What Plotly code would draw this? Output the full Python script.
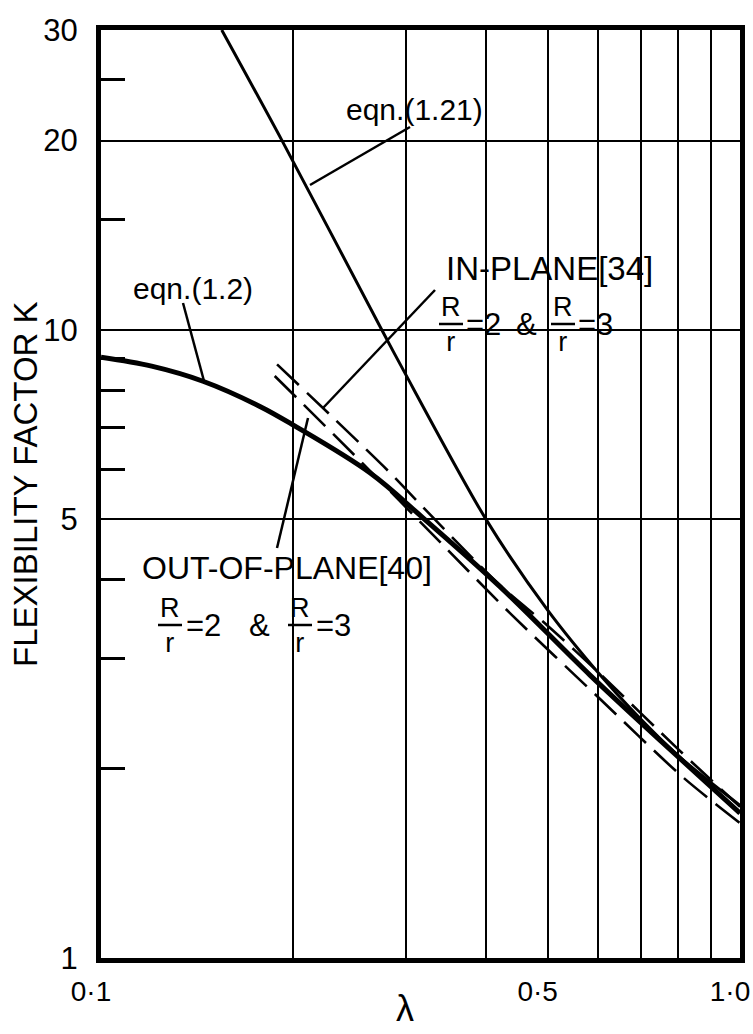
import plotly.graph_objects as go
import math

# ---- data (lambda, K) ----
lam_eq121 = [0.1545, 0.192, 0.275, 0.297, 0.40, 0.50, 0.61, 0.673, 0.80, 1.0]
k_eq121 = [30.0, 20.0, 10.0, 8.64, 5.0, 3.58, 2.79, 2.50, 2.10, 1.75]

lam_eq12 = [0.1, 0.12, 0.1444, 0.1773, 0.2, 0.2635, 0.319, 0.4211, 0.5824, 0.75, 1.0]
k_eq12 = [9.04, 8.75, 8.28, 7.55, 7.05, 5.92, 5.02, 3.90, 2.82, 2.22, 1.70]

lam_inplane = [0.1886, 0.2834, 0.319, 0.4211, 0.50, 0.60, 0.80, 1.0]
k_inplane = [8.81, 5.92, 5.22, 3.92, 3.38, 2.85, 2.15, 1.74]

lam_outplane = [0.187, 0.2542, 0.3417, 0.4365, 0.60, 0.814, 1.0]
k_outplane = [8.44, 6.19, 4.56, 3.54, 2.60, 1.94, 1.64]

y_label_vals = [1, 5, 10, 20, 30]
y_label_text = ["1", "5", "10", "20", "30"]
y_minor_vals = [2, 3, 4, 6, 7, 8, 9, 15, 25]
x_label_vals = [0.1, 0.5, 1.0]
x_label_text = ["0\u00b71", "0\u00b75", "1\u00b70"]
x_grid_vals = [0.2, 0.3, 0.4, 0.6, 0.7, 0.8, 0.9]

W, H = 753, 1034
ML, MR, MT, MB = 101, 13, 30, 76
PW, PH = W - ML - MR, H - MT - MB
FONT = "Liberation Sans, Arial, sans-serif"


def px(x):
    return (x - ML) / PW


def py(y):
    return (H - MB - y) / PH


fig = go.Figure()
fig.add_trace(go.Scatter(x=lam_eq12, y=k_eq12, mode="lines",
                         line=dict(color="black", width=5, shape="spline", smoothing=1.0)))
fig.add_trace(go.Scatter(x=lam_eq121, y=k_eq121, mode="lines",
                         line=dict(color="black", width=3, shape="spline", smoothing=0.8)))
fig.add_trace(go.Scatter(x=lam_inplane, y=k_inplane, mode="lines",
                         line=dict(color="black", width=2.6, dash="30px,11px",
                                   shape="spline", smoothing=0.8)))
fig.add_trace(go.Scatter(x=lam_outplane, y=k_outplane, mode="lines",
                         line=dict(color="black", width=2.6, dash="30px,11px",
                                   shape="spline", smoothing=0.8)))

annotations = []
shapes = []


def label(text, cx, cy, size, xanchor="center", angle=0):
    annotations.append(dict(
        text=text, x=px(cx), y=py(cy), xref="paper", yref="paper",
        xanchor=xanchor, yanchor="middle", showarrow=False, textangle=angle,
        borderpad=0, font=dict(family=FONT, size=size, color="black")))


def mask(x0, y0, x1, y1):
    # white panel behind a text block, drawn over the grid but under the curves
    shapes.append(dict(type="rect", xref="paper", yref="paper", layer="between",
                       x0=px(x0), x1=px(x1), y0=py(y1), y1=py(y0),
                       fillcolor="white", line=dict(width=0)))


mask(338, 95, 490, 125)
mask(128, 273, 259, 304)
mask(436, 250, 662, 292)
mask(436, 292, 620, 356)
mask(138, 553, 436, 590)
mask(152, 590, 358, 658)

label("eqn.(1.21)", 414, 110, 30)
label("eqn.(1.2)", 193, 289, 30)
label("IN-PLANE[34]", 549, 268, 33)
label("OUT-OF-PLANE[40]", 287, 568, 32)
label("FLEXIBILITY FACTOR K", 25, 484, 33, angle=-90)
label("\u03bb", 405, 1008, 36)


def fraction_row(r1x, r2x, mid, eq1x, ampx, eq2x):
    # each ratio is one text block: R over r, with a drawn fraction bar
    for rx in (r1x, r2x):
        label("R<br>r", rx, mid, 27)
        shapes.append(dict(type="line", xref="paper", yref="paper",
                           x0=px(rx - 12), x1=px(rx + 12), y0=py(mid), y1=py(mid),
                           line=dict(color="black", width=2.5)))
    label("=2", eq1x, mid, 31, xanchor="left")
    label("&amp;", ampx, mid, 31)
    label("=3", eq2x, mid, 31, xanchor="left")


fraction_row(451, 563, 324, 465, 526, 577)
fraction_row(170, 300, 625, 185, 259, 315)

# leader lines from labels to curves
leaders = [
    ((410, 127), (310, 185)),
    ((183, 303), (204, 381)),
    ((435, 290), (323, 408)),
    ((277, 548), (308, 418)),
]
for (x0, y0), (x1, y1) in leaders:
    shapes.append(dict(type="line", xref="paper", yref="paper",
                       x0=px(x0), y0=py(y0), x1=px(x1), y1=py(y1),
                       line=dict(color="black", width=2.5)))

fig.update_layout(
    width=W, height=H,
    margin=dict(l=ML, r=MR, t=MT, b=MB, autoexpand=False),
    paper_bgcolor="white", plot_bgcolor="white",
    showlegend=False,
    annotations=annotations,
    shapes=shapes,
    xaxis=dict(
        type="log", range=[math.log10(0.1), math.log10(1.0)], automargin=False,
        tickvals=x_label_vals, ticktext=x_label_text, ticks="",
        tickfont=dict(family=FONT, size=28, color="black"),
        ticklabelstandoff=4, ticklabelshift=-10, ticklabeloverflow="allow",
        showgrid=True, gridcolor="black", gridwidth=1.5,
        minor=dict(tickvals=x_grid_vals, showgrid=True, gridcolor="black",
                   gridwidth=1.5, ticks=""),
        showline=True, linecolor="black", linewidth=5, mirror=True,
        zeroline=False,
    ),
    yaxis=dict(
        type="log", range=[0, math.log10(30)], automargin=False,
        tickvals=y_label_vals, ticktext=y_label_text, ticks="",
        tickfont=dict(family=FONT, size=31, color="black"),
        ticklabelstandoff=12,
        showgrid=True, gridcolor="black", gridwidth=2,
        minor=dict(tickvals=y_minor_vals, ticks="inside", ticklen=24,
                   tickwidth=3, tickcolor="black", showgrid=False),
        showline=True, linecolor="black", linewidth=5, mirror=True,
        zeroline=False,
    ),
)

fig.write_html("out.html")
